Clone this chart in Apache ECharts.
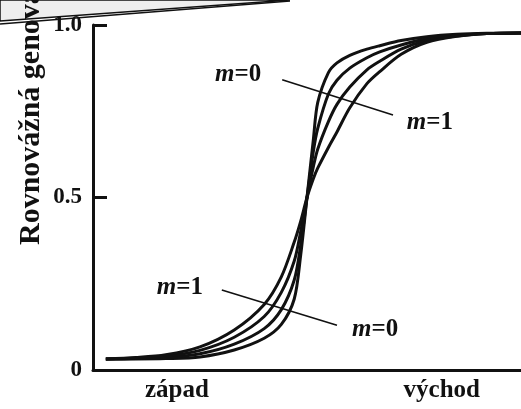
<!DOCTYPE html>
<html>
<head>
<meta charset="utf-8">
<script src="https://cdn.jsdelivr.net/npm/echarts@6/dist/echarts.min.js"></script>
<style>
  html, body { margin: 0; padding: 0; background: #fff; }
  #main { width: 521px; height: 409px; }
</style>
</head>
<body>
<div id="main"></div>
<script>
// position along the transect (0 = left edge of plot, 100 = right edge)
const xs = [3, 10, 17, 25, 33, 40, 44, 47, 48.5, 50, 51.5, 52.5, 55, 57, 60, 64, 67, 72, 78, 85, 92, 100];
// equilibrium frequencies
const m0 = [0.032, 0.032, 0.033, 0.038, 0.058, 0.092, 0.132, 0.205, 0.33, 0.50, 0.67, 0.775, 0.862, 0.89, 0.912, 0.93, 0.94, 0.955, 0.966, 0.973, 0.976, 0.977];
const mA = [0.032, 0.033, 0.036, 0.047, 0.075, 0.12, 0.175, 0.26, 0.36, 0.50, 0.635, 0.70, 0.80, 0.84, 0.875, 0.905, 0.922, 0.942, 0.96, 0.97, 0.975, 0.977];
const mB = [0.032, 0.034, 0.040, 0.057, 0.095, 0.155, 0.225, 0.315, 0.40, 0.50, 0.59, 0.64, 0.72, 0.77, 0.82, 0.87, 0.895, 0.93, 0.955, 0.968, 0.975, 0.977];
const m1 = [0.032, 0.036, 0.044, 0.067, 0.116, 0.19, 0.27, 0.37, 0.43, 0.50, 0.555, 0.585, 0.645, 0.69, 0.76, 0.83, 0.865, 0.915, 0.95, 0.967, 0.975, 0.977];

// leader lines and their labels
const leaderTop = [[44.2, 0.841], [70.1, 0.739]];
const leaderBottom = [[30.1, 0.232], [57.0, 0.130]];
const curveLabels = [[33.9, 0.855, '0'], [78.7, 0.716, '1'], [20.3, 0.238, '1'], [65.9, 0.116, '0']];

// axis labels
const xLabelPos = [19.6, 81.5];
const xLabelText = ['západ', 'východ'];
const yTickText = { 0: '0', 0.5: '0.5', 1: '1.0' };
const yName = 'Rovnovážná genová frekvence';

const font = 'Liberation Serif';
const ink = '#111';

const zip = (a, b) => a.map((v, i) => [v, b[i]]);

const curve = (name, vals) => ({
  name: name,
  type: 'line',
  data: zip(xs, vals),
  smooth: 0.3,
  showSymbol: false,
  lineStyle: { color: ink, width: 3 },
  z: 3
});

const leader = (pts) => ({
  type: 'line',
  data: pts,
  showSymbol: false,
  lineStyle: { color: ink, width: 1.6 },
  z: 4
});

var chart = echarts.init(document.getElementById('main'));
var option = {
  animation: false,
  backgroundColor: '#fff',
  grid: { left: 93, right: 0, top: 25, bottom: 39 },
  xAxis: {
    type: 'value',
    min: 0,
    max: 100,
    splitLine: { show: false },
    axisLine: { lineStyle: { color: ink, width: 3 } },
    axisTick: { show: false },
    axisLabel: {
      customValues: xLabelPos,
      formatter: (v) => xLabelText[xLabelPos.indexOf(v)] || '',
      fontFamily: font,
      fontWeight: 'bold',
      fontSize: 25,
      color: ink,
      margin: 8
    }
  },
  yAxis: {
    type: 'value',
    min: 0,
    max: 1,
    interval: 0.5,
    splitLine: { show: false },
    axisLine: { show: true, lineStyle: { color: ink, width: 3 } },
    axisTick: { show: true, inside: true, length: 14, lineStyle: { color: ink, width: 3 } },
    axisLabel: {
      formatter: (v) => yTickText[v],
      fontFamily: font,
      fontWeight: 'bold',
      fontSize: 23,
      color: ink,
      margin: 11
    }
  },
  graphic: [
    {
      type: 'polygon',
      shape: { points: [[0, 0], [0, 21], [290, 0]] },
      style: { fill: '#eeeeee', stroke: ink, lineWidth: 1.5 }
    },
    {
      type: 'line',
      shape: { x1: 0, y1: 24, x2: 290, y2: 1 },
      style: { stroke: ink, lineWidth: 1.5 }
    },
    {
      type: 'text',
      x: 31,
      y: 245,
      rotation: Math.PI / 2,
      style: {
        text: yName,
        font: 'bold 30px "Liberation Serif"',
        fill: ink,
        textAlign: 'left',
        textVerticalAlign: 'middle'
      }
    }
  ],
  series: [
    curve('m=0', m0),
    curve('mA', mA),
    curve('mB', mB),
    curve('m=1', m1),
    leader(leaderTop),
    leader(leaderBottom),
    {
      type: 'scatter',
      symbolSize: 0,
      itemStyle: { opacity: 1 },
      data: curveLabels.map((d) => ({ value: [d[0], d[1]], name: d[2] })),
      label: {
        show: true,
        position: 'inside',
        formatter: (p) => '{i|m}{n|=' + p.name + '}',
        rich: {
          i: { fontFamily: font, fontStyle: 'italic', fontWeight: 'bold', fontSize: 25, color: ink },
          n: { fontFamily: font, fontWeight: 'bold', fontSize: 25, color: ink }
        }
      },
      z: 5
    }
  ]
};
chart.setOption(option);
</script>
</body>
</html>
